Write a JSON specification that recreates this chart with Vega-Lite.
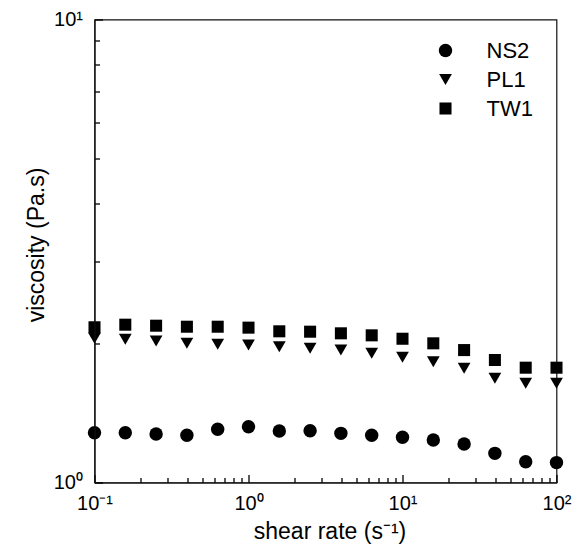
{
  "$schema": "https://vega.github.io/schema/vega-lite/v6.json",
  "width": 462,
  "height": 463,
  "autosize": {"type": "none"},
  "padding": {"left": 94.5, "top": 19.5, "right": 17.5, "bottom": 65.5},
  "background": "white",
  "config": {
    "font": "Liberation Sans",
    "view": {"stroke": "#111", "strokeWidth": 1.2},
    "axis": {"labelFontSize": 20, "labelFont": "Liberation Sans"}
  },
  "data": {
    "values": [
      {"rate": 0.1, "series": "NS2", "visc": 1.281},
      {"rate": 0.1585, "series": "NS2", "visc": 1.281},
      {"rate": 0.2512, "series": "NS2", "visc": 1.273},
      {"rate": 0.3981, "series": "NS2", "visc": 1.265},
      {"rate": 0.631, "series": "NS2", "visc": 1.303},
      {"rate": 1, "series": "NS2", "visc": 1.32},
      {"rate": 1.585, "series": "NS2", "visc": 1.292},
      {"rate": 2.512, "series": "NS2", "visc": 1.294},
      {"rate": 3.981, "series": "NS2", "visc": 1.277},
      {"rate": 6.31, "series": "NS2", "visc": 1.265},
      {"rate": 10, "series": "NS2", "visc": 1.252},
      {"rate": 15.85, "series": "NS2", "visc": 1.235},
      {"rate": 25.12, "series": "NS2", "visc": 1.211},
      {"rate": 39.81, "series": "NS2", "visc": 1.156},
      {"rate": 63.1, "series": "NS2", "visc": 1.109},
      {"rate": 100, "series": "NS2", "visc": 1.104},
      {"rate": 0.1, "series": "PL1", "visc": 2.048},
      {"rate": 0.1585, "series": "PL1", "visc": 2.038},
      {"rate": 0.2512, "series": "PL1", "visc": 2.021},
      {"rate": 0.3981, "series": "PL1", "visc": 1.998},
      {"rate": 0.631, "series": "PL1", "visc": 1.988},
      {"rate": 1, "series": "PL1", "visc": 1.981},
      {"rate": 1.585, "series": "PL1", "visc": 1.965},
      {"rate": 2.512, "series": "PL1", "visc": 1.949},
      {"rate": 3.981, "series": "PL1", "visc": 1.932},
      {"rate": 6.31, "series": "PL1", "visc": 1.901},
      {"rate": 10, "series": "PL1", "visc": 1.864},
      {"rate": 15.85, "series": "PL1", "visc": 1.823},
      {"rate": 25.12, "series": "PL1", "visc": 1.765},
      {"rate": 39.81, "series": "PL1", "visc": 1.679},
      {"rate": 63.1, "series": "PL1", "visc": 1.638},
      {"rate": 100, "series": "PL1", "visc": 1.638},
      {"rate": 0.1, "series": "TW1", "visc": 2.164},
      {"rate": 0.1585, "series": "TW1", "visc": 2.192},
      {"rate": 0.2512, "series": "TW1", "visc": 2.181},
      {"rate": 0.3981, "series": "TW1", "visc": 2.17},
      {"rate": 0.631, "series": "TW1", "visc": 2.17},
      {"rate": 1, "series": "TW1", "visc": 2.16},
      {"rate": 1.585, "series": "TW1", "visc": 2.121},
      {"rate": 2.512, "series": "TW1", "visc": 2.117},
      {"rate": 3.981, "series": "TW1", "visc": 2.1},
      {"rate": 6.31, "series": "TW1", "visc": 2.079},
      {"rate": 10, "series": "TW1", "visc": 2.044},
      {"rate": 15.85, "series": "TW1", "visc": 1.998},
      {"rate": 25.12, "series": "TW1", "visc": 1.932},
      {"rate": 39.81, "series": "TW1", "visc": 1.839},
      {"rate": 63.1, "series": "TW1", "visc": 1.77},
      {"rate": 100, "series": "TW1", "visc": 1.77}
    ]
  },
  "mark": {"type": "point", "filled": true, "opacity": 1, "clip": false},
  "encoding": {
    "x": {
      "field": "rate",
      "type": "quantitative",
      "scale": {"type": "log", "domain": [0.1, 100], "nice": false},
      "axis": {
        "values": [0.1, 0.2, 0.3, 0.4, 0.5, 0.6, 0.7, 0.8, 0.9, 1, 2, 3, 4, 5, 6, 7, 8, 9, 10, 20, 30, 40, 50, 60, 70, 80, 90, 100],
        "labelExpr": "datum.value == 0.1 ? '10⁻¹' : datum.value == 1 ? '10⁰' : datum.value == 10 ? '10¹' : datum.value == 100 ? '10²' : ''",
        "tickSize": {"condition": {"test": "datum.value == 0.1 || datum.value == 1 || datum.value == 10 || datum.value == 100", "value": -8}, "value": -5},
        "tickColor": "#000",
        "tickWidth": 1.3,
        "domainColor": "#111",
        "domainWidth": 1.2,
        "zindex": 1,
        "labelFontSize": 20,
        "labelColor": "#000",
        "labelPadding": 19,
        "labelFlush": false,
        "labelOverlap": false,
        "grid": false,
        "title": "shear rate (s⁻¹)",
        "titleFontSize": 23,
        "titleFontWeight": "normal",
        "titleColor": "#000",
        "titleBaseline": "alphabetic",
        "titleY": 56,
        "titleX": 235
      }
    },
    "y": {
      "field": "visc",
      "type": "quantitative",
      "scale": {"type": "log", "domain": [1, 10], "nice": false},
      "axis": {
        "values": [1, 2, 3, 4, 5, 6, 7, 8, 9, 10],
        "labelExpr": "datum.value == 1 ? '10⁰' : datum.value == 10 ? '10¹' : ''",
        "tickSize": {"condition": {"test": "datum.value == 1 || datum.value == 10", "value": -8}, "value": -5},
        "tickColor": "#000",
        "tickWidth": 1.3,
        "domainColor": "#111",
        "domainWidth": 1.2,
        "zindex": 1,
        "labelFontSize": 20,
        "labelColor": "#000",
        "labelPadding": 20,
        "labelFlush": false,
        "labelOverlap": false,
        "grid": false,
        "title": "viscosity (Pa.s)",
        "titleFontSize": 23,
        "titleFontWeight": "normal",
        "titleColor": "#000",
        "titleAngle": -90,
        "titleAlign": "center",
        "titleBaseline": "alphabetic",
        "titleX": -51,
        "titleY": 225
      }
    },
    "shape": {
      "field": "series",
      "type": "nominal",
      "scale": {"domain": ["NS2", "PL1", "TW1"], "range": ["circle", "triangle-down", "square"]},
      "legend": {
        "title": null,
        "orient": "none",
        "legendX": 340,
        "legendY": 20,
        "padding": 0,
        "labelFontSize": 22,
        "labelColor": "#000",
        "labelOffset": 30,
        "rowPadding": 7,
        "symbolFillColor": "#000",
        "symbolStrokeColor": "#000",
        "symbolStrokeWidth": 0
      }
    },
    "size": {
      "field": "series",
      "type": "nominal",
      "scale": {"domain": ["NS2", "PL1", "TW1"], "range": [180, 145, 130]},
      "legend": {
        "title": null,
        "orient": "none",
        "legendX": 340,
        "legendY": 20,
        "padding": 0,
        "labelFontSize": 22,
        "labelColor": "#000",
        "labelOffset": 30,
        "rowPadding": 7
      }
    },
    "color": {"value": "#000"}
  }
}
